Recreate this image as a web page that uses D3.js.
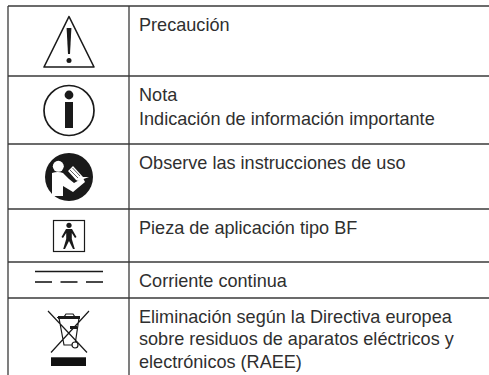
<!DOCTYPE html>
<html>
<head>
<meta charset="utf-8">
<script src="https://cdn.jsdelivr.net/npm/d3@7"></script>
<style>
  html, body { margin: 0; padding: 0; background: #fff; }
  text { font-family: "Liberation Sans", Arial, sans-serif; font-size: 18.1px; fill: #2f2f2f; }
</style>
</head>
<body>
<div id="vis"></div>
<script>
var rowKeys = ["caution", "note", "manual", "bf", "dc", "weee"];
var rowLines = [
  ["Precaución"],
  ["Nota", "Indicación de información importante"],
  ["Observe las instrucciones de uso"],
  ["Pieza de aplicación tipo BF"],
  ["Corriente continua"],
  ["Eliminación según la Directiva europea", "sobre residuos de aparatos eléctricos y", "electrónicos (RAEE)"]
];
var rowEdges = [6, 76, 144, 209, 262, 298, 375];
var lineGaps = [0, 24, 0, 0, 0, 22.5];

var width = 489, height = 375;
var ink = "#1a1a1a", rule = "#3a3a3a";

var svg = d3.select("#vis").append("svg")
  .attr("width", width)
  .attr("height", height)
  .style("display", "block");

var y = d3.scaleOrdinal().domain(rowKeys).range(rowEdges.slice(0, 6));

// table rules
svg.append("g").selectAll("line")
  .data(rowEdges.slice(0, 6))
  .join("line")
  .attr("x1", 8).attr("x2", width)
  .attr("y1", function(d) { return d; })
  .attr("y2", function(d) { return d; })
  .attr("stroke", rule)
  .attr("stroke-width", 1.3);

svg.append("g").selectAll("line")
  .data([8, 129])
  .join("line")
  .attr("x1", function(d) { return d; })
  .attr("x2", function(d) { return d; })
  .attr("y1", 6).attr("y2", height)
  .attr("stroke", rule)
  .attr("stroke-width", 1.3);

// descriptions
var rows = svg.append("g").selectAll("g")
  .data(rowKeys)
  .join("g")
  .attr("transform", function(d) { return "translate(139," + y(d) + ")"; });

rows.selectAll("text")
  .data(function(d, i) {
    return rowLines[i].map(function(s, j) { return { s: s, dy: j * lineGaps[i] }; });
  })
  .join("text")
  .attr("y", function(d) { return d.dy + 24.5; })
  .text(function(d) { return d.s; });

// icons, each drawn in its own local coordinates around the icon column centre
var icons = svg.append("g").attr("transform", "translate(69,0)");

var caution = icons.append("g");
caution.append("path")
  .attr("d", "M0,16.5L-25,67H25Z")
  .attr("fill", "none").attr("stroke", ink).attr("stroke-width", 1.6).attr("stroke-linejoin", "round");
caution.append("path")
  .attr("d", "M-2.4,28H2.4L1,54H-1Z").attr("fill", ink);
caution.append("circle").attr("cy", 60.5).attr("r", 2.5).attr("fill", ink);

var note = icons.append("g");
note.append("circle").attr("cy", 110.5).attr("r", 25)
  .attr("fill", "none").attr("stroke", ink).attr("stroke-width", 1.7);
note.append("circle").attr("cy", 95).attr("r", 4.4).attr("fill", ink);
note.append("rect").attr("x", -4).attr("y", 102).attr("width", 8).attr("height", 26).attr("fill", ink);

var manual = icons.append("g");
manual.append("circle").attr("cy", 177).attr("r", 24).attr("fill", ink);
manual.append("circle").attr("cx", -10.7).attr("cy", 166.3).attr("r", 5.5).attr("fill", "#fff");
manual.append("path")
  .attr("d", "M-17,173Q-11,171 -6,173L0,179L5,183L14,178L16,182L4,192L-6,186V196H-17Z")
  .attr("fill", "#fff");
manual.append("path")
  .attr("d", "M-1,171L4,166L14,177L20,177L9,181L7,180Z")
  .attr("fill", "#fff");
manual.append("path")
  .attr("d", "M1,170L9,178M3.5,168L11,176")
  .attr("fill", "none").attr("stroke", ink).attr("stroke-width", 0.7);

var bf = icons.append("g");
bf.append("rect").attr("x", -15.5).attr("y", 220.5).attr("width", 31).attr("height", 31)
  .attr("fill", "none").attr("stroke", ink).attr("stroke-width", 1.2);
bf.append("circle").attr("cy", 225.3).attr("r", 2.6).attr("fill", ink);
bf.append("path")
  .attr("d", "M-3,229H3L7.5,237L6,238L2.8,233V239L5.8,249H4L0,241L-4,249H-5.8L-2.8,239V233L-6,238L-7.5,237Z")
  .attr("fill", ink);

var dc = icons.append("g");
dc.append("line").attr("x1", -34).attr("x2", 34).attr("y1", 271.5).attr("y2", 271.5)
  .attr("stroke", ink).attr("stroke-width", 1.6);
dc.selectAll("line.dash")
  .data([-34, -8.5, 17])
  .join("line")
  .attr("class", "dash")
  .attr("x1", function(d) { return d; })
  .attr("x2", function(d) { return d + 17; })
  .attr("y1", 282).attr("y2", 282)
  .attr("stroke", ink).attr("stroke-width", 1.6);

var weee = icons.append("g");
weee.append("path")
  .attr("d", "M-21,311L18,352.5M20,311L-18,352.5M-12,317.5H11M-10,318L-5,345H6L10,318M-5,317L-3,314H4L6,317")
  .attr("fill", "none").attr("stroke", ink).attr("stroke-width", 1.2);
weee.append("path").attr("d", "M-11,316H11V319H-11ZM1,326H8V329H1Z").attr("fill", ink);
weee.append("circle").attr("cx", 6).attr("cy", 345).attr("r", 3).attr("fill", "#fff").attr("stroke", ink).attr("stroke-width", 1.2);
weee.append("rect").attr("x", -18).attr("y", 357.3).attr("width", 35).attr("height", 8.7).attr("fill", "#111");
</script>
</body>
</html>
